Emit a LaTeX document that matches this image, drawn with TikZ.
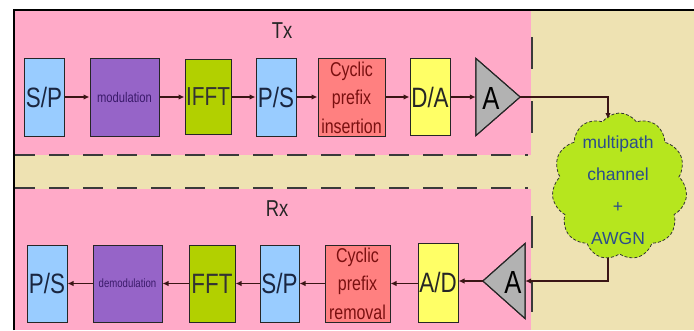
\documentclass[tikz,border=0pt]{standalone}
\usepackage{fontspec}
\setmainfont{Liberation Sans}
\newfontfamily\nar[FakeStretch=0.8]{Liberation Sans}
\usetikzlibrary{shapes.symbols,arrows.meta}
\definecolor{pinkc}{HTML}{FFAAC8}
\definecolor{beigec}{HTML}{EEE2B2}
\definecolor{lblue}{HTML}{99CCFF}
\definecolor{purp}{HTML}{9664C8}
\definecolor{limec}{HTML}{B2D000}
\definecolor{salm}{HTML}{FF8080}
\definecolor{yel}{HTML}{FFFF66}
\definecolor{grayc}{HTML}{B2B2B2}
\definecolor{cloudc}{HTML}{B6E61E}
\definecolor{cloudtxt}{HTML}{2B4C8C}
\definecolor{navy}{HTML}{1A2640}
\definecolor{darkpurp}{HTML}{3A1A6A}
\definecolor{darkred}{HTML}{7A1010}
\definecolor{linec}{HTML}{3A1515}
\definecolor{dashc}{HTML}{3A3A3A}
\tikzset{
  box/.style={draw=black!85, line width=1pt, inner sep=0pt, minimum height=78pt},
  lab/.style={font=\nar\fontsize{28}{28}\selectfont},
  cyc/.style={font=\nar\fontsize{20}{28.5}\selectfont, align=center, text=darkred},
  arr/.style={draw=linec, line width=1.2pt, -{Latex[length=6pt,width=5.5pt]}},
  dashline/.style={draw=dashc, line width=2pt, dash pattern=on 20pt off 14pt},
  vdash/.style={draw=dashc, line width=2pt, dash pattern=on 32pt off 32pt},
  ampbox/.style={draw=none, inner sep=0pt, minimum width=44pt, minimum height=77pt},
  amp/.style={draw=black!85, line width=1pt, fill=grayc},
  region/.style={font=\nar\fontsize{23}{23}\selectfont, text=black!85}
}
\begin{document}
\begin{tikzpicture}[x=1pt,y=-1pt]
\useasboundingbox (0,0) rectangle (694,330);
\fill[white] (0,0) rectangle (694,330);
% backgrounds
\fill[beigec] (14,10) rectangle (694,330);
\fill[pinkc] (15,11) rectangle (531,155);
\fill[pinkc] (15,189) rectangle (531,330);
\draw[dashline] (15,155) -- (528,155);
\draw[dashline] (15,188) -- (528,188);
\draw[vdash] (532,37) -- (532,152);
\draw[vdash] (532,216) -- (532,330);
\draw[line width=1.5pt] (14,330) -- (14,10) -- (694,10);
\node[region] (tx) at (282,31) {Tx};
\node[region] (rx) at (277,209) {Rx};
% Tx chain
\node[box, fill=lblue, minimum width=40pt, text=navy, lab] (spT) at (44,97) {S/P};
\node[box, fill=purp, minimum width=69pt, text=darkpurp, font=\nar\fontsize{14}{14}\selectfont] (mod) at (124.5,97) {modulation};
\node[box, fill=limec, minimum width=46pt, minimum height=75pt, text=black!80, font=\nar\fontsize{26}{26}\selectfont] (ifft) at (208,97) {IFFT};
\node[box, fill=lblue, minimum width=40pt, text=navy, lab] (psT) at (276,97) {P/S};
\node[box, fill=salm, minimum width=67pt, cyc] (cpi) at (351.5,97.5) {Cyclic\\prefix\\insertion};
\node[box, fill=yel, minimum width=40pt, minimum height=77pt, text=black!85, lab] (da) at (430,97) {D/A};
\node[ampbox] (ampT) at (498,97) {};
\fill[amp] (ampT.north west) -- (ampT.east) -- (ampT.south west) -- cycle;
\draw[black!85, line width=1pt] (ampT.north west) -- (ampT.east) -- (ampT.south west) -- cycle;
\node[font=\nar\fontsize{32}{32}\selectfont] (aTt) at (491,98) {A};
% Cloud
\node[cloud, cloud puffs=11, cloud puff arc=110, cloud ignores aspect, minimum width=135pt, minimum height=147pt, fill=cloudc, draw=black!80, densely dashed, line width=0.8pt, inner sep=0pt] (cloud) at (619.5,186.5) {};
\node[align=center, text=cloudtxt, font=\fontsize{17.5}{32}\selectfont] (ctext) at (618,190) {multipath\\channel\\+\\AWGN};
\coordinate (cin) at (608,119);
\coordinate (cout) at (608,258);
% Rx chain
\node[ampbox, minimum width=42pt, minimum height=75pt] (ampR) at (504,281) {};
\fill[amp] (ampR.north east) -- (ampR.west) -- (ampR.south east) -- cycle;
\draw[black!85, line width=1pt] (ampR.north east) -- (ampR.west) -- (ampR.south east) -- cycle;
\node[font=\nar\fontsize{32}{32}\selectfont] (aRt) at (513,282) {A};
\node[box, fill=yel, minimum width=40pt, minimum height=79pt, text=black!85, lab] (ad) at (438,282.5) {A/D};
\node[box, fill=salm, minimum width=65pt, minimum height=77pt, cyc] (cpr) at (357.5,283.5) {Cyclic\\prefix\\removal};
\node[box, fill=lblue, minimum width=39pt, minimum height=77pt, text=navy, lab] (spR) at (279.5,283.5) {S/P};
\node[box, fill=limec, minimum width=46pt, minimum height=77pt, text=black!80, lab] (fft) at (212,283.5) {FFT};
\node[box, fill=purp, minimum width=69pt, minimum height=77pt, text=darkpurp, font=\nar\fontsize{12}{12}\selectfont] (demod) at (127.5,283.5) {demodulation};
\node[box, fill=lblue, minimum width=40pt, minimum height=77pt, text=navy, lab] (psR) at (47,283.5) {P/S};
% connectors Tx
\draw[arr] (spT) -- (mod);
\draw[arr] (mod) -- (ifft);
\draw[arr] (ifft) -- (psT);
\draw[arr] (psT) -- (cpi.west |- psT);
\draw[arr] (cpi.east |- da) -- (da);
\draw[arr] (da) -- (ampT.west);
\draw[arr] (ampT.east) -| (cin);
\draw[arr] (cout) |- (ampR.east);
% connectors Rx
\draw[arr] (ampR.west) -- (ad.east |- ampR.west);
\draw[arr] (ad.west |- cpr) -- (cpr);
\draw[arr] (cpr) -- (spR);
\draw[arr] (spR) -- (fft);
\draw[arr] (fft) -- (demod);
\draw[arr] (demod) -- (psR);
\end{tikzpicture}
\end{document}
